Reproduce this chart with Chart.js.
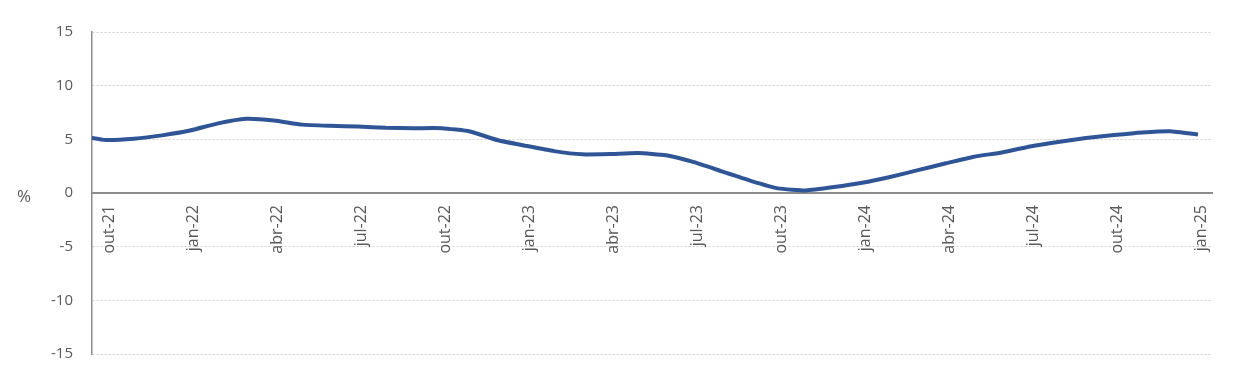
<!DOCTYPE html>
<html>
<head>
<meta charset="utf-8">
<script src="https://cdn.jsdelivr.net/npm/chart.js@4.4.1/dist/chart.umd.min.js"></script>
<style>
  html, body { margin: 0; padding: 0; background: #ffffff; }
  #wrap { position: relative; width: 1254px; height: 386px; }
</style>
</head>
<body>
<div id="wrap"><canvas id="c"></canvas></div>
<script>
// Months (index 0 = set-21, only partially visible at the left edge)
const months = ['set-21','out-21','nov-21','dez-21',
  'jan-22','fev-22','mar-22','abr-22','mai-22','jun-22','jul-22','ago-22','set-22','out-22','nov-22','dez-22',
  'jan-23','fev-23','mar-23','abr-23','mai-23','jun-23','jul-23','ago-23','set-23','out-23','nov-23','dez-23',
  'jan-24','fev-24','mar-24','abr-24','mai-24','jun-24','jul-24','ago-24','set-24','out-24','nov-24','dez-24',
  'jan-25'];
const values = [5.35, 4.94, 5.06, 5.37,
  5.82, 6.49, 6.92, 6.76, 6.37, 6.26, 6.19, 6.07, 6.04, 6.04, 5.73, 4.91,
  4.39, 3.90, 3.60, 3.63, 3.72, 3.51, 2.87, 2.01, 1.16, 0.43, 0.24, 0.55,
  0.95, 1.49, 2.13, 2.77, 3.38, 3.78, 4.33, 4.76, 5.12, 5.40, 5.64, 5.76,
  5.46];
const tickMonths = ['out-21','jan-22','abr-22','jul-22','out-22','jan-23','abr-23','jul-23','out-23','jan-24','abr-24','jul-24','out-24','jan-25'];
const yTicks = [-15, -10, -5, 0, 5, 10, 15];
const yUnit = '%';

const points = values.map((v, i) => ({ x: i, y: v }));
const tickIdx = tickMonths.map(m => months.indexOf(m));

const FONT = "'Open Sans', 'Noto Sans', sans-serif";
const TXT = '#595959';

const unitLabel = {
  id: 'unitLabel',
  afterDraw(chart) {
    const ctx = chart.ctx;
    const ys = chart.scales.y;
    ctx.save();
    ctx.font = "17px " + FONT;
    ctx.fillStyle = TXT;
    ctx.textAlign = 'center';
    ctx.textBaseline = 'middle';
    ctx.fillText(yUnit, 24, ys.getPixelForValue(0) + 4);
    ctx.restore();
  }
};

new Chart(document.getElementById('c'), {
  type: 'line',
  data: {
    datasets: [{
      data: points,
      borderColor: '#2F5597',
      borderWidth: 4,
      pointRadius: 0,
      tension: 0.15,
      borderJoinStyle: 'round',
      fill: false,
      clip: 0
    }]
  },
  options: {
    responsive: true,
    maintainAspectRatio: false,
    animation: false,
    layout: { padding: { left: 0, right: 42, top: 32, bottom: 32 } },
    plugins: { legend: { display: false }, tooltip: { enabled: false } },
    scales: {
      x: {
        type: 'linear',
        position: { y: 0 },
        min: 0.5,
        max: 40.5,
        afterBuildTicks: (axis) => { axis.ticks = tickIdx.map(v => ({ value: v })); },
        grid: { display: false, drawTicks: false },
        border: { display: true, color: '#8c8c8c', width: 2 },
        ticks: {
          autoSkip: false,
          minRotation: 90,
          maxRotation: 90,
          padding: 12,
          labelOffset: 3,
          color: TXT,
          font: { family: FONT, size: 16 },
          callback: (v) => months[v]
        }
      },
      y: {
        type: 'linear',
        min: -15,
        max: 15,
        afterBuildTicks: (axis) => { axis.ticks = yTicks.map(v => ({ value: v })); },
        afterFit: (scale) => { scale.width = 92; },
        grid: { color: '#cfcfcf', lineWidth: 1, drawTicks: false },
        border: { display: true, color: '#8c8c8c', width: 1.5, dash: [2, 2] },
        ticks: {
          padding: 19,
          color: TXT,
          font: { family: FONT, size: 15 }
        }
      }
    }
  },
  plugins: [unitLabel]
});
</script>
</body>
</html>
